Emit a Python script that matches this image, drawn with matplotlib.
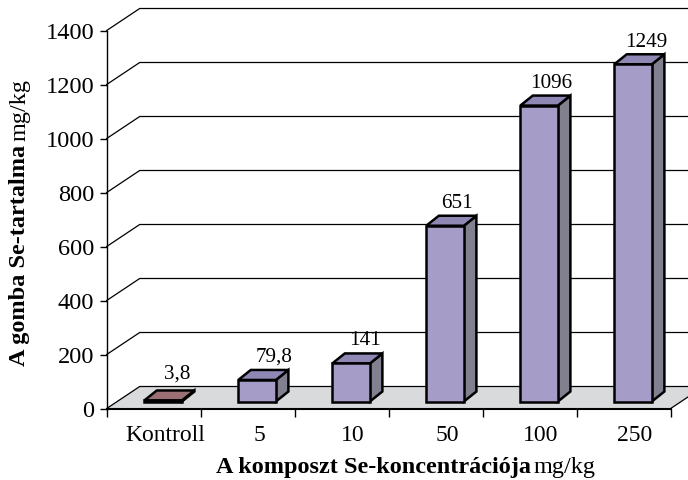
import matplotlib
matplotlib.use("Agg")
import matplotlib.pyplot as plt
from matplotlib.patches import Polygon

plt.rcParams['font.family'] = ['Liberation Serif', 'DejaVu Serif']

categories = ["Kontroll", "5", "10", "50", "100", "250"]
values = [3.8, 79.8, 141, 651, 1096, 1249]
value_labels = ["3,8", "79,8", "141", "651", "1096", "1249"]
y_ticks = list(range(0, 1401, 200))

W, H = 688, 481
X0, CAT_W = 106.7, 94.0      # px of first category edge, px per category
Y0, PX_PER_UNIT = 409.5, 0.27
WALL_DX, WALL_DY = 33 / CAT_W, 22 / PX_PER_UNIT
BAR_LEFT, BAR_W = 0.40, 0.40
BAR_BASE = 7 / PX_PER_UNIT
BAR_DX, BAR_DY = 12.5 / CAT_W, 10 / PX_PER_UNIT
LABEL_NUDGE = [(1.5, 6), (3.5, 3.5), (0.7, 3), (-0.7, 2.7), (0, 2.7), (0.5, 2.3)]

FRONT, SIDE, TOP = "#a59cc8", "#80808f", "#8f88b5"
KONTROLL_TOP = "#9a7074"

fig = plt.figure(figsize=(W / 100, H / 100), dpi=100)
ax = fig.add_axes([0, 0, 1, 1])
ax.set_xlim(-X0 / CAT_W, (W - X0) / CAT_W)
ax.set_ylim((Y0 - H) / PX_PER_UNIT, Y0 / PX_PER_UNIT)
ax.patch.set_visible(False)

n = len(categories)
# floor
ax.add_patch(Polygon([(0, 0), (WALL_DX, WALL_DY), (n + WALL_DX, WALL_DY), (n, 0)],
                     closed=True, fc="#d9dadc", ec="none", zorder=1))
# back wall grid and left wall diagonals
for t in y_ticks:
    ax.plot([0, WALL_DX, n + WALL_DX], [t, t + WALL_DY, t + WALL_DY],
            color="black", lw=0.9, zorder=1.5, solid_joinstyle="miter")
ax.plot([n, n + WALL_DX], [0, WALL_DY], color="black", lw=0.9, zorder=1.5)

# bars
for i, v in enumerate(values):
    left = i + BAR_LEFT
    right = left + BAR_W
    bot, top = BAR_BASE, BAR_BASE + v
    z = 3 + i * 0.1
    kw = dict(closed=True, ec="black", lw=1.8, joinstyle="miter", zorder=z)
    ax.add_patch(Polygon([(right, bot), (right + BAR_DX, bot + BAR_DY),
                          (right + BAR_DX, top + BAR_DY), (right, top)], fc=SIDE, **kw))
    ax.add_patch(Polygon([(left, top), (left + BAR_DX, top + BAR_DY),
                          (right + BAR_DX, top + BAR_DY), (right, top)],
                         fc=KONTROLL_TOP if i == 0 else TOP, **kw))
    ax.bar(left, v, width=BAR_W, bottom=bot, align="edge", color=FRONT,
           edgecolor="black", linewidth=1.8, zorder=z)
    ax.annotate(value_labels[i], (left + BAR_W / 2 + BAR_DX, top + BAR_DY),
                xytext=LABEL_NUDGE[i], textcoords="offset points", ha="center", va="bottom",
                fontsize=15.2, zorder=6)

# axes
for s in ("top", "right"):
    ax.spines[s].set_visible(False)
ax.spines["left"].set_position(("data", 0))
ax.spines["bottom"].set_position(("data", 0))
ax.spines["left"].set_bounds(0, 1400)
ax.spines["bottom"].set_bounds(0, n)
ax.spines["left"].set_linewidth(1.0)
ax.spines["bottom"].set_linewidth(1.5)
ax.spines["left"].set_zorder(2)
ax.spines["bottom"].set_zorder(2)
ax.set_yticks(y_ticks)
ax.tick_params(axis="y", length=5, width=1.0, labelsize=17.6, pad=4)
ax.set_xticks(range(n + 1))
ax.set_xticklabels([])
ax.tick_params(axis="x", length=5.5, width=1.0)
ax.set_xticks([i + 0.62 for i in range(n)], minor=True)
ax.set_xticklabels(categories, minor=True)
ax.tick_params(axis="x", which="minor", length=0, labelsize=17, pad=11)

# axis titles (bold + regular)
def fx(px): return px / W
def fy(py): return 1 - py / H
fig.text(fx(531), fy(468), "A komposzt Se-koncentrációja", fontsize=17.5, fontweight="bold",
         ha="right", va="center")
fig.text(fx(534), fy(468), "mg/kg", fontsize=17.5, ha="left", va="center")
fig.text(fx(20), fy(145), "A gomba Se-tartalma", fontsize=17.5, fontweight="bold",
         rotation=90, ha="center", va="top")
fig.text(fx(20), fy(141), "mg/kg", fontsize=17.5, rotation=90, ha="center", va="bottom")

fig.savefig("out.png", dpi=100)
